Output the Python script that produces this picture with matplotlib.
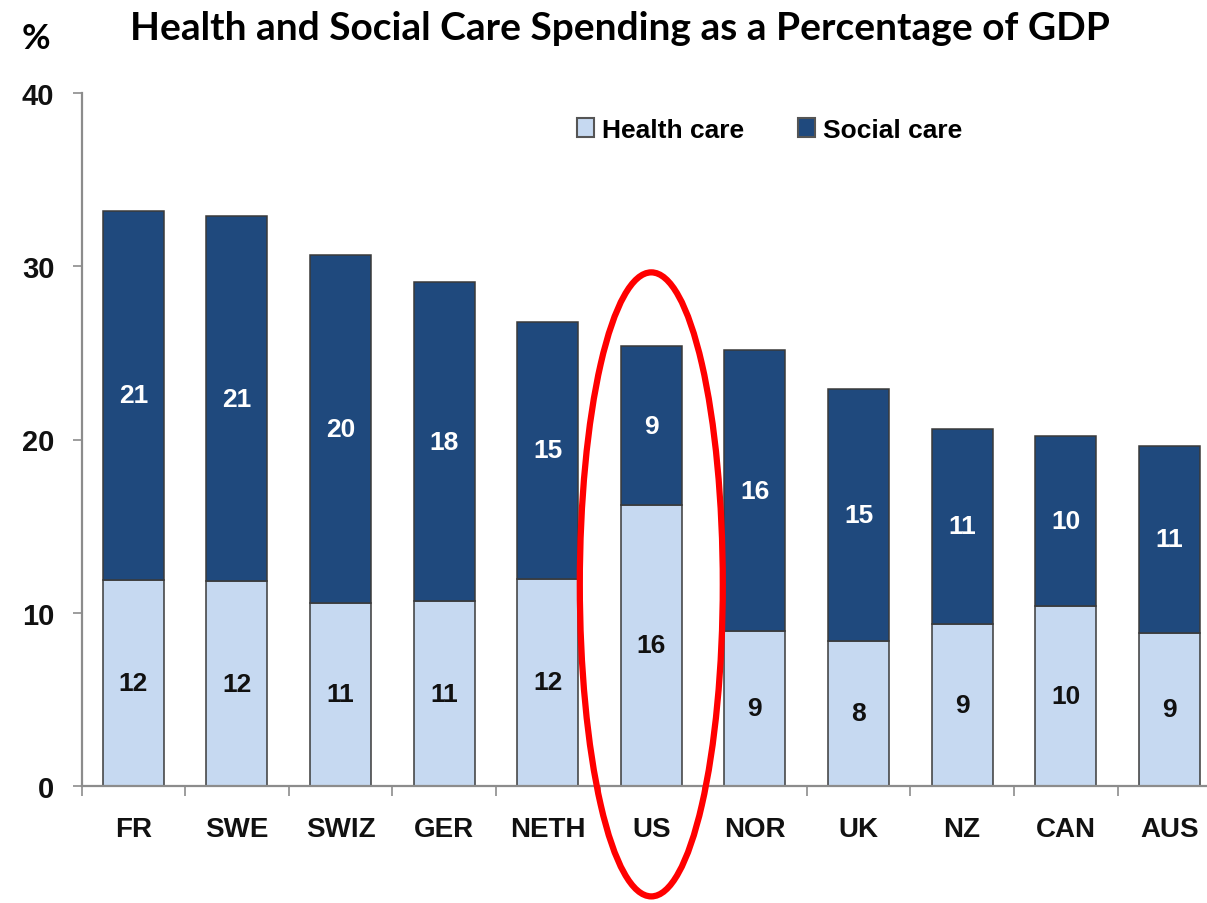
import matplotlib
matplotlib.use("Agg")
import matplotlib.pyplot as plt
from matplotlib import font_manager
from matplotlib.patches import Ellipse, Patch
import numpy as np

countries = ["FR", "SWE", "SWIZ", "GER", "NETH", "US", "NOR", "UK", "NZ", "CAN", "AUS"]
health_care = [11.9, 11.8, 10.55, 10.65, 11.95, 16.2, 8.95, 8.35, 9.35, 10.4, 8.85]
social_care = [21.3, 21.1, 20.1, 18.45, 14.85, 9.2, 16.2, 14.55, 11.25, 9.8, 10.75]
highlight = "US"

HEALTH_COLOR = "#C6D9F1"
SOCIAL_COLOR = "#1F497D"
EDGE_COLOR = "#3A3A3A"
AXIS_COLOR = "#8C8C8C"

installed = {f.name for f in font_manager.fontManager.ttflist}
narrow = "Liberation Sans Narrow" if "Liberation Sans Narrow" in installed else "Liberation Sans"
title_font = "Lato" if "Lato" in installed else "DejaVu Sans"

fig = plt.figure(figsize=(12.07, 9.04), dpi=100)
ax = fig.add_axes([81.5 / 1207, 117.3 / 904, 1139.6 / 1207, 692.4 / 904])

x = np.arange(len(countries))
width = 0.59
health = np.array(health_care)
social = np.array(social_care)

ax.bar(x, health, width, color=HEALTH_COLOR, edgecolor=EDGE_COLOR, linewidth=1.1, zorder=2)
ax.bar(x, social, width, bottom=health, color=SOCIAL_COLOR, edgecolor=EDGE_COLOR,
       linewidth=1.1, zorder=2)

for xi, h, s in zip(x, health, social):
    ax.text(xi, h / 2, f"{h:.0f}", ha="center", va="center", fontsize=19,
            fontweight="bold", family=narrow, color="#111111", zorder=3)
    ax.text(xi, h + s / 2, f"{s:.0f}", ha="center", va="center", fontsize=19,
            fontweight="bold", family=narrow, color="white", zorder=3)

ax.set_xlim(-0.5, len(countries) - 0.5)
ax.set_ylim(0, 40)

for side in ("top", "right"):
    ax.spines[side].set_visible(False)
for side in ("left", "bottom"):
    ax.spines[side].set_color(AXIS_COLOR)
    ax.spines[side].set_linewidth(1.6)

ax.set_yticks([0, 10, 20, 30, 40])
ax.tick_params(axis="y", direction="out", length=6.5, width=1.2, color=AXIS_COLOR,
               pad=13, labelsize=21)
ax.set_xticks(x)
ax.set_xticklabels(countries)
ax.set_xticks(np.arange(-0.5, len(countries), 1.0), minor=True)
ax.tick_params(axis="x", which="major", length=0, pad=22, labelsize=20)
ax.tick_params(axis="x", which="minor", direction="out", length=7, width=1.2, color=AXIS_COLOR)
for lab in ax.get_xticklabels() + ax.get_yticklabels():
    lab.set_family(narrow)
    lab.set_fontweight("bold")
    lab.set_color("#111111")

# red ring around the highlighted country
hx = countries.index(highlight)
ring = Ellipse((hx, 11.63), 1.38, 36.05, fill=False, edgecolor="#FF0000",
               linewidth=4.5, clip_on=False, zorder=4)
ax.add_patch(ring)

handles = [Patch(facecolor=HEALTH_COLOR, edgecolor="#555555", linewidth=1.5, label="Health care"),
           Patch(facecolor=SOCIAL_COLOR, edgecolor="#555555", linewidth=1.5, label="Social care")]
fig.legend(handles=handles, loc="center left", bbox_to_anchor=(577 / 1207, 1 - 131 / 904),
           ncol=2, frameon=False, borderpad=0, borderaxespad=0, handlelength=0.65,
           handleheight=0.75, handletextpad=0.3, columnspacing=2.05,
           prop={"family": narrow, "weight": "bold", "size": 19})

fig.text(620 / 1207, 1 - 28 / 904, "Health and Social Care Spending as a Percentage of GDP",
         ha="center", va="center", fontsize=28, fontweight="bold", family=title_font)
fig.text(36 / 1207, 1 - 39 / 904, "%", ha="center", va="center", fontsize=25,
         fontweight="bold", family=title_font)

fig.savefig("out.png", dpi=100)
